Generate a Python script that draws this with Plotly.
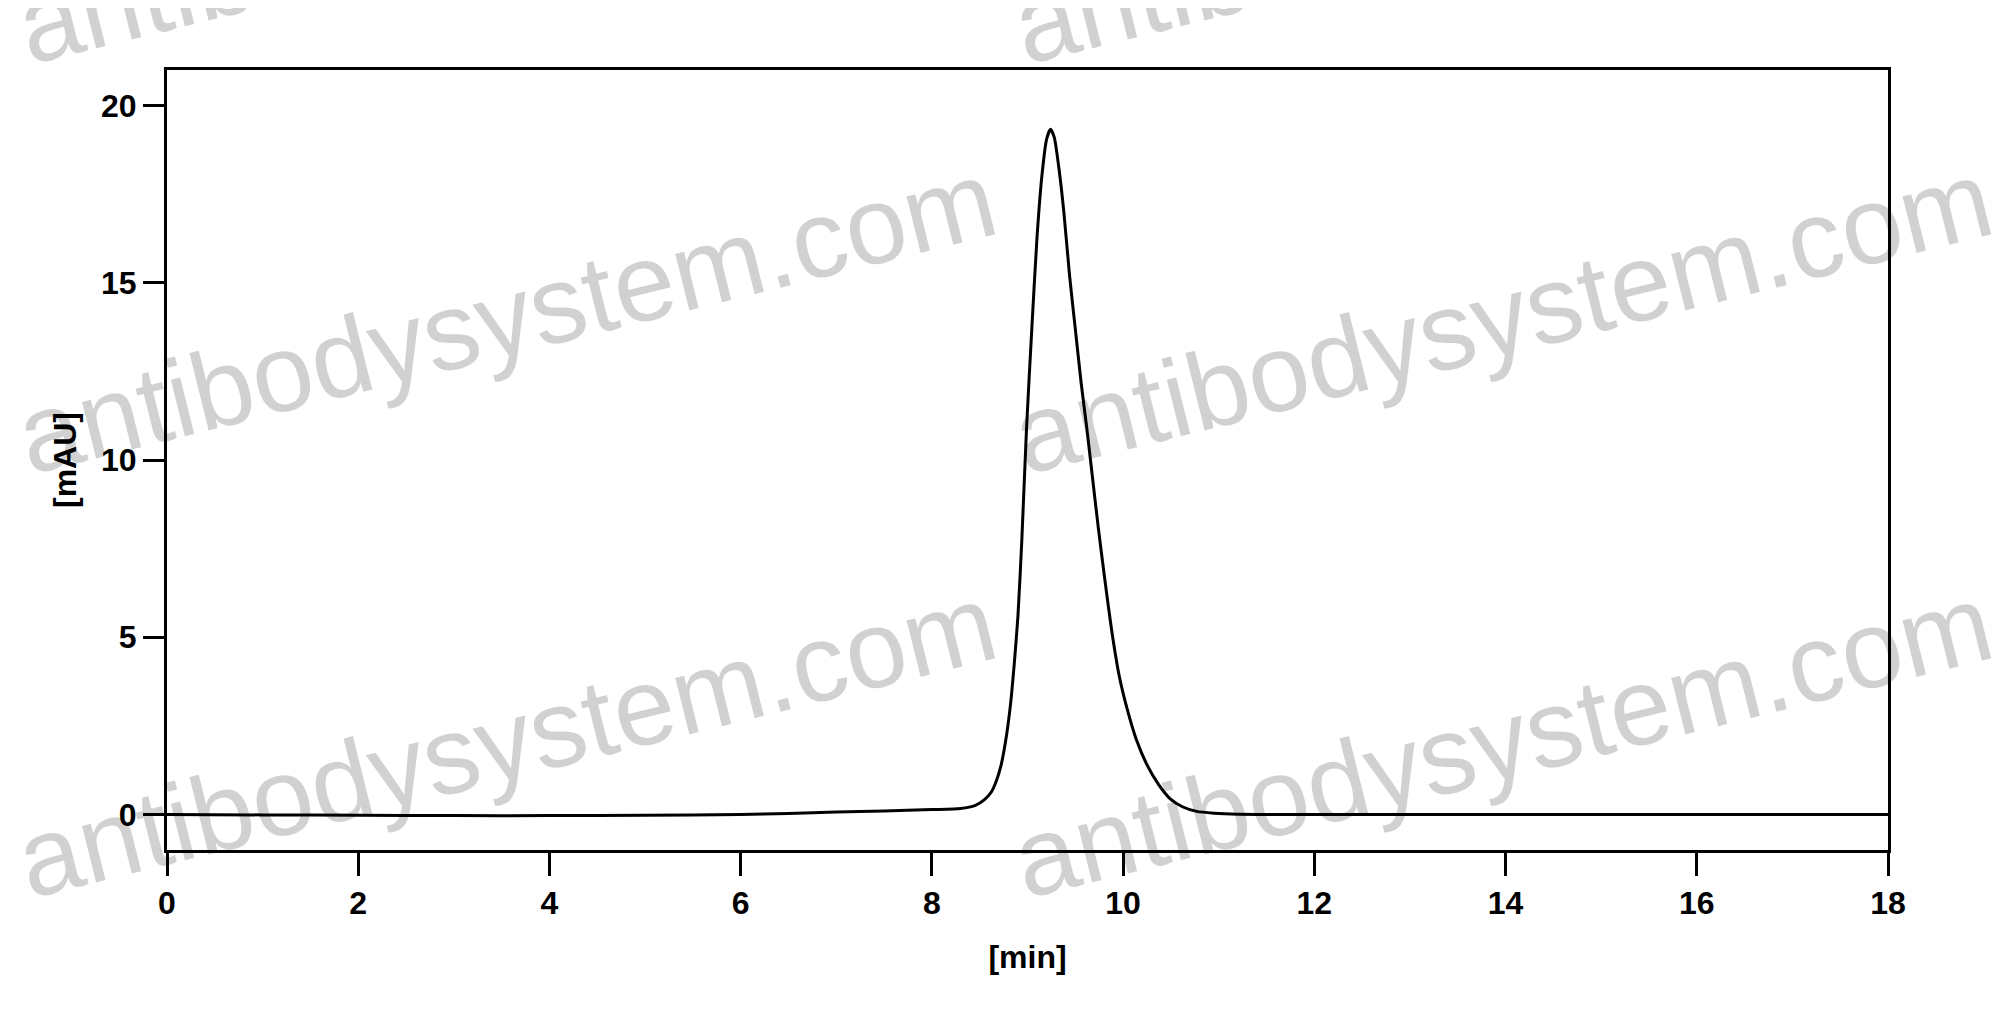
import plotly.graph_objects as go

# Chromatogramme : temps de rétention (min) et absorbance (mAU)
temps = [0, 1, 2, 3, 4, 5, 6, 6.5, 7, 7.5, 8.0, 8.3, 8.45, 8.55, 8.62, 8.67,
         8.72, 8.77, 8.82, 8.86, 8.9, 8.94, 8.99, 9.045, 9.1, 9.15, 9.2, 9.24, 9.28,
         9.33, 9.38, 9.44, 9.5, 9.56, 9.62, 9.68, 9.74, 9.81, 9.88, 9.96, 10.04,
         10.14, 10.25, 10.37, 10.49, 10.62, 10.77, 10.95, 11.2, 11.6, 12, 14, 16, 18]
absorbance = [0.0, -0.01, -0.02, -0.03, -0.03, -0.02, 0.0, 0.03, 0.07, 0.10, 0.14,
              0.17, 0.25, 0.42, 0.63, 0.92, 1.35, 2.05, 3.05, 4.2, 5.6, 7.7, 10.9,
              13.7, 16.3, 18.0, 19.05, 19.33, 19.1, 18.2, 17.0, 15.2, 13.7, 12.2,
              10.9, 9.5, 8.1, 6.6, 5.2, 3.9, 3.0, 2.1, 1.4, 0.85, 0.45, 0.22, 0.09,
              0.04, 0.01, 0.0, 0.0, 0.0, 0.0, 0.0]

x_ticks = [0, 2, 4, 6, 8, 10, 12, 14, 16, 18]
y_ticks = [0, 5, 10, 15, 20]

watermark = 'antibodysystem.com'

# la page ajoute 8 px de marge autour du graphique
W, H = 1983, 1003
marge = dict(l=159, r=103, t=62, b=161)

# début de la ligne de base de chaque filigrane (px dans la fenêtre)
wm_debut_x = [-968, 28, 1024]
wm_debut_y = [53, 463, 887, 1307]


def to_paper(px, py):
    pw = W - marge['l'] - marge['r']
    ph = H - marge['t'] - marge['b']
    return (px - marge['l']) / pw, (H - marge['b'] - py) / ph


annotations = []
for sx in wm_debut_x:
    for sy in wm_debut_y:
        ax, ay = to_paper(sx + 478 - 8, sy - 147 - 8)
        annotations.append(dict(text=watermark, x=ax, y=ay, xref='paper', yref='paper',
                                xanchor='center', yanchor='middle', showarrow=False,
                                textangle=-14,
                                font=dict(family='Liberation Sans, Arial', size=110,
                                          color='rgba(0,0,0,0.18)')))

fig = go.Figure(go.Scatter(x=temps, y=absorbance, mode='lines',
                           line=dict(color='black', width=3, shape='spline', smoothing=0.6),
                           hoverinfo='skip'))

police = dict(family='Liberation Sans, Arial', size=32, color='black', weight='bold')

fig.update_layout(width=W, height=H, margin=marge,
                  paper_bgcolor='white', plot_bgcolor='white',
                  showlegend=False,
                  annotations=annotations)

fig.update_xaxes(range=[0, 18], tickvals=x_ticks, ticks='outside', ticklen=23, tickwidth=3,
                 tickcolor='black', showline=True, linecolor='black', linewidth=3, mirror=True,
                 showgrid=False, zeroline=False, tickfont=police, ticklabelstandoff=0,
                 title=dict(text='[min]', font=police, standoff=26))
fig.update_yaxes(range=[-1, 21], tickvals=y_ticks, ticks='outside', ticklen=21, tickwidth=3,
                 tickcolor='black', showline=True, linecolor='black', linewidth=3, mirror=True,
                 showgrid=False, zeroline=False, tickfont=police, ticklabelstandoff=0,
                 title=dict(text='[mAU]', font=police, standoff=15))

fig.write_html("out.html")
